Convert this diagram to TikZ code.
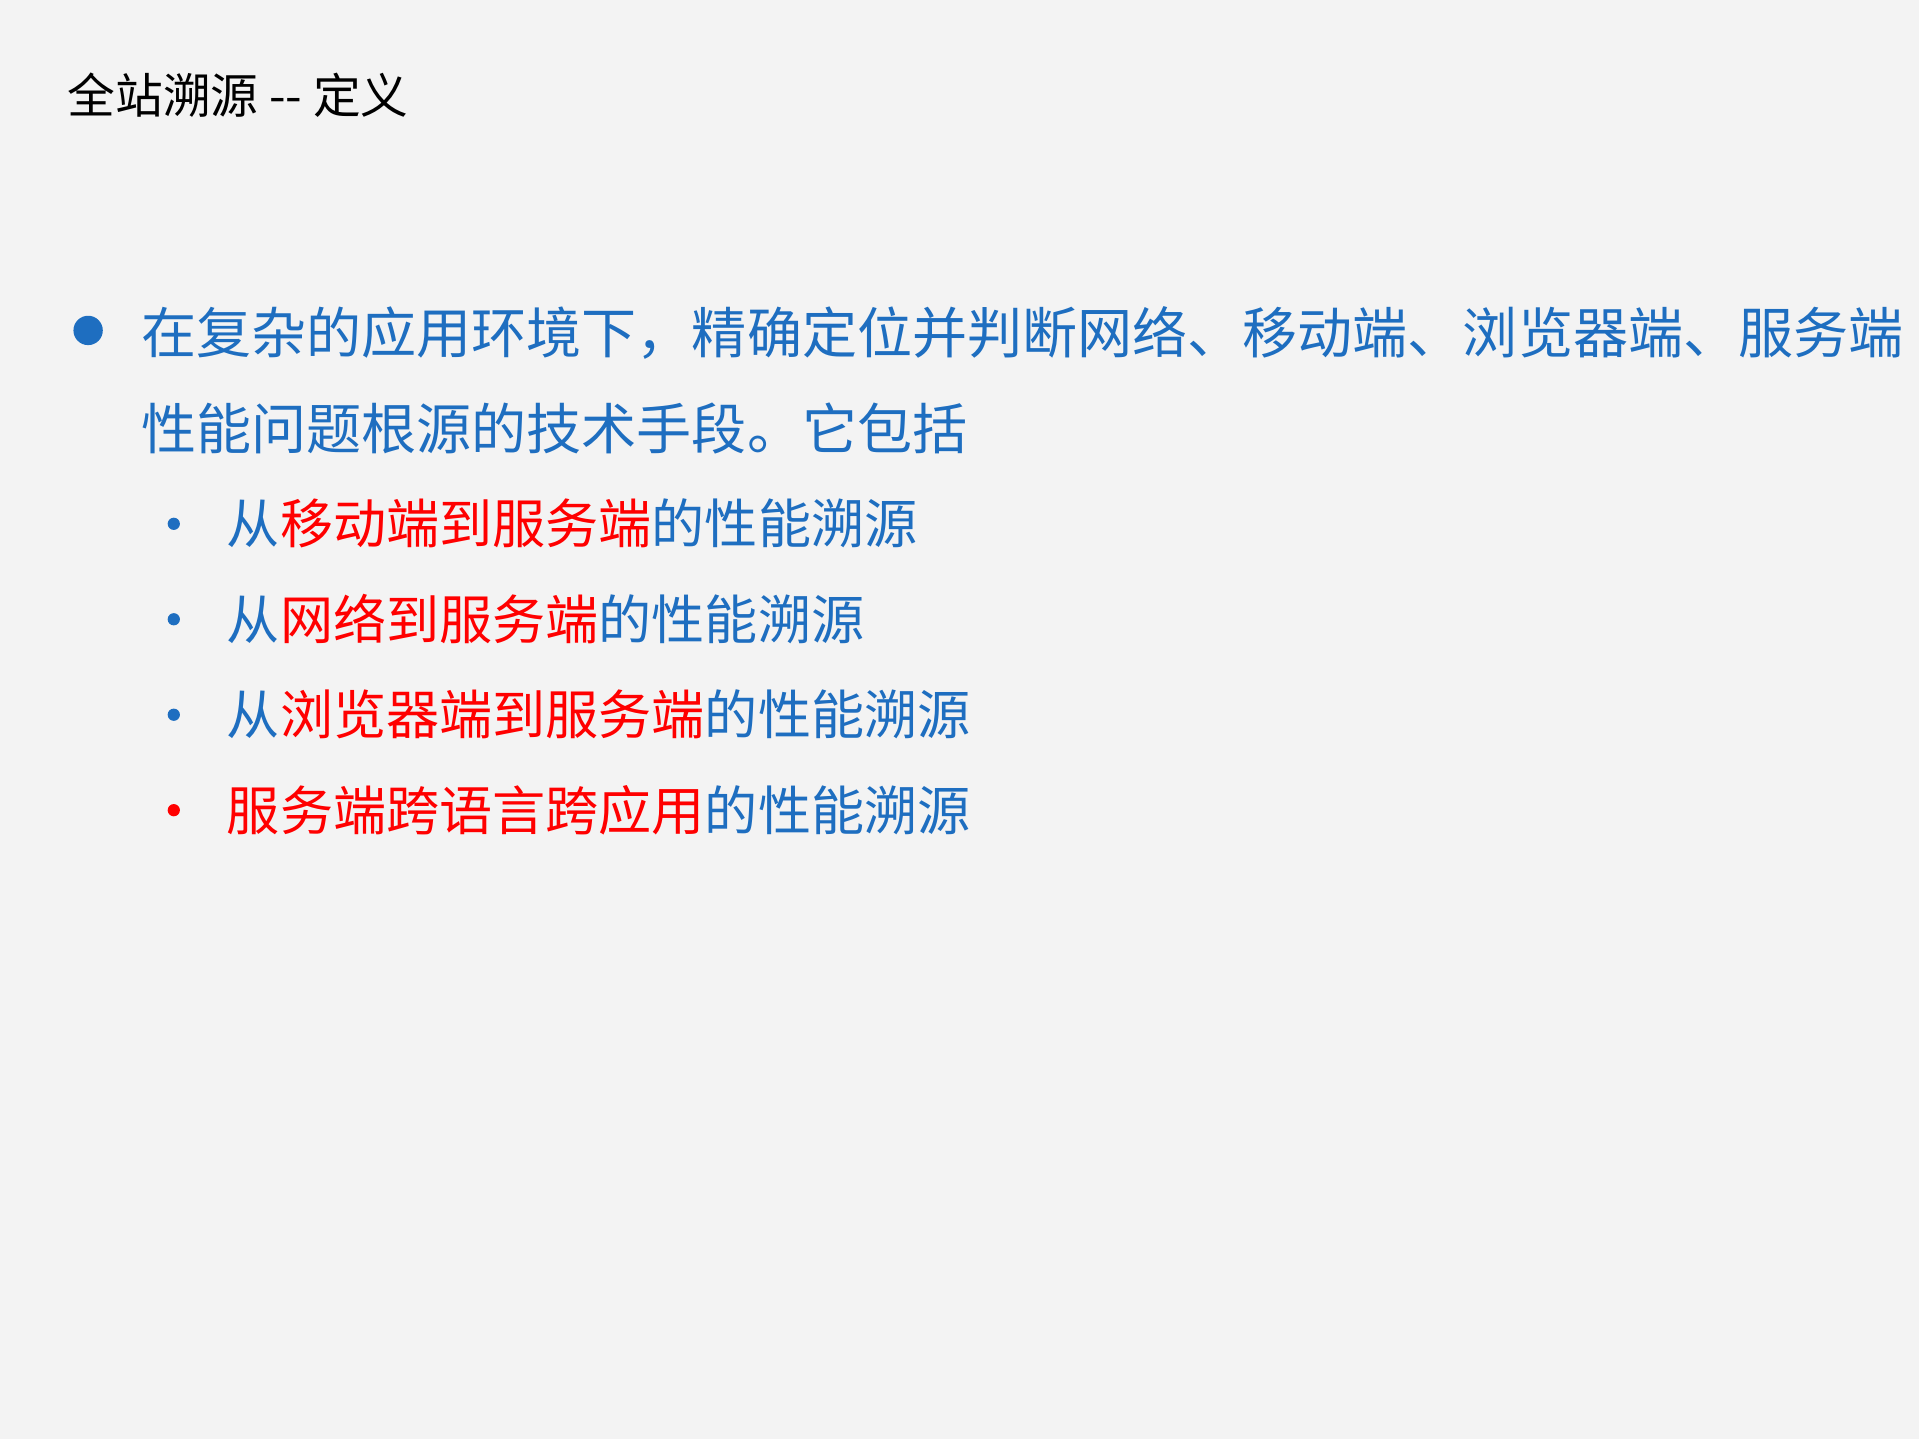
\documentclass[tikz,border=0pt]{standalone}
\usepackage{fontspec}
\setmainfont{Noto Sans CJK SC}
\definecolor{bg}{HTML}{F3F3F3}
\definecolor{tblue}{HTML}{1E6EC0}
\definecolor{tred}{HTML}{FF0000}
\begin{document}
\begin{tikzpicture}[x=0.5pt,y=-0.5pt,
  txt/.style={anchor=west,inner sep=0pt},
  main/.style={txt,font=\fontsize{22.5pt}{27pt}\selectfont,text=tblue},
  sub/.style={txt,font=\fontsize{21.7pt}{26pt}\selectfont,text=tblue}]
\fill[bg] (0,0) rectangle (1568,1176);
\useasboundingbox (0,0) rectangle (1568,1176);
\node[txt,font=\fontsize{19.5pt}{24pt}\selectfont] (title) at (55,78) {全站溯源 -{}- 定义};
\fill[tblue] (72,270) circle (12);
\node[main] (l1) at (115,272) {在复杂的应用环境下，精确定位并判断网络、移动端、浏览器端、服务端};
\node[main] (l2) at (115,350) {性能问题根源的技术手段。它包括};
\fill[tblue] (142,428) circle (5);
\node[sub] (s1) at (185,428) {从\textcolor{tred}{移动端到服务端}的性能溯源};
\fill[tblue] (142,506) circle (5);
\node[sub] (s2) at (185,506) {从\textcolor{tred}{网络到服务端}的性能溯源};
\fill[tblue] (142,584) circle (5);
\node[sub] (s3) at (185,584) {从\textcolor{tred}{浏览器端到服务端}的性能溯源};
\fill[tred] (142,662) circle (5);
\node[sub] (s4) at (185,662) {\textcolor{tred}{服务端跨语言跨应用}的性能溯源};
\end{tikzpicture}
\end{document}
